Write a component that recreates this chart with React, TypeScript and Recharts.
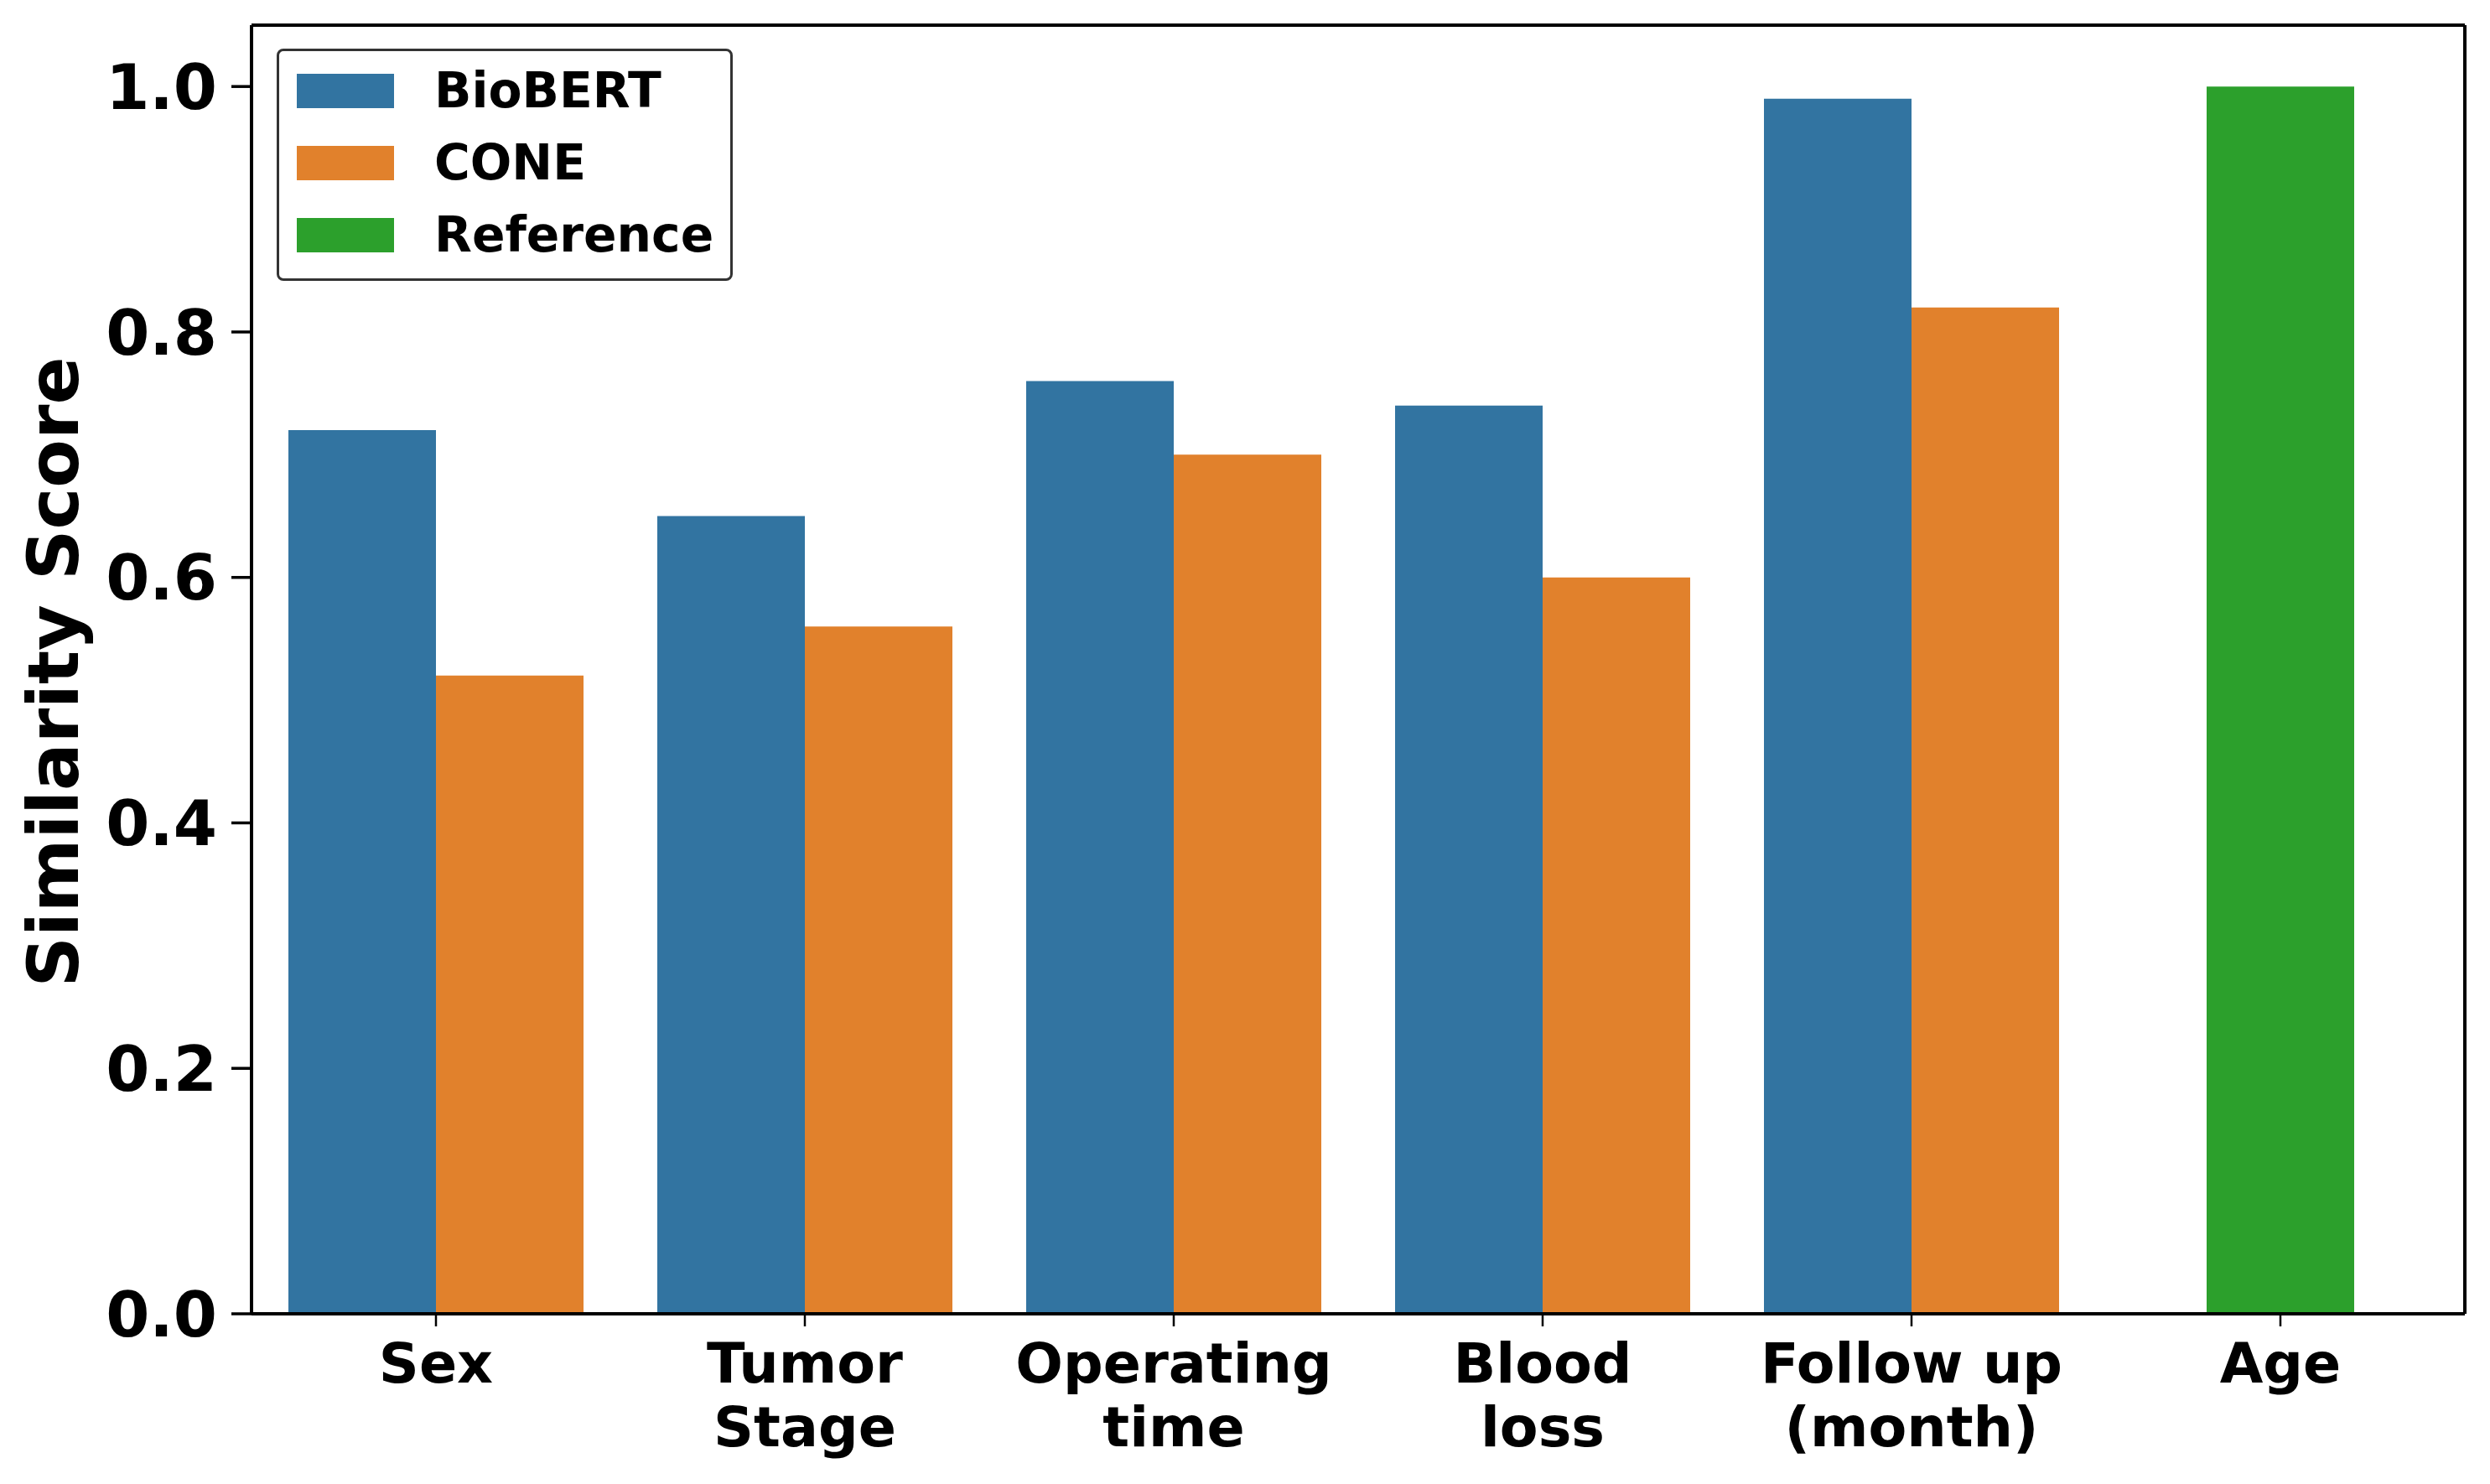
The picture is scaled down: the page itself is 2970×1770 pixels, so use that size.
import React from 'react';
import { BarChart, Bar, XAxis, YAxis, Legend } from 'recharts';

const CATEGORIES = ['Sex', 'Tumor\nStage', 'Operating\ntime', 'Blood\nloss', 'Follow up\n(month)', 'Age'];
const BIOBERT = [0.72, 0.65, 0.76, 0.74, 0.99, null];
const CONE = [0.52, 0.56, 0.70, 0.60, 0.82, null];
const REFERENCE = [null, null, null, null, null, 1.0];
const Y_TICKS = [0, 0.2, 0.4, 0.6, 0.8, 1.0];
const SERIES_NAMES = ['BioBERT', 'CONE', 'Reference'];
const COLORS = ['#3274a1', '#e1812c', '#2ca02c'];

const data = CATEGORIES.map((name, i) => ({
  name,
  BioBERT: BIOBERT[i],
  CONE: CONE[i],
  Reference: REFERENCE[i],
}));

const FONT = '"DejaVu Sans", sans-serif';

const XTick = (props: any) => {
  const { x, y, payload } = props;
  const lines = String(payload.value).split('\n');
  return (
    <text x={x} y={y} textAnchor="middle" fontFamily={FONT} fontWeight="bold" fontSize={66.7} fill="#000">
      {lines.map((ln, i) => (
        <tspan key={i} x={x} dy={i === 0 ? '0.73em' : 76}>{ln}</tspan>
      ))}
    </text>
  );
};

const YLabel = (props: any) => {
  const vb = props.viewBox || { x: 0, y: 0, height: 0 };
  const cx = vb.x + 93;
  const cy = vb.y + vb.height / 2 + 3;
  return (
    <text x={cx} y={cy} transform={`rotate(-90, ${cx}, ${cy})`} textAnchor="middle"
      fontFamily={FONT} fontWeight="bold" fontSize={84} fill="#000">
      Similarity Score
    </text>
  );
};

const LegendContent = () => (
  <div style={{
    boxSizing: 'border-box', width: 544, height: 277, border: '3px solid #333', borderRadius: 8,
    background: '#fff', paddingLeft: 21, paddingTop: 26, fontFamily: FONT, fontWeight: 'bold', fontSize: 58.3,
  }}>
    {SERIES_NAMES.map((n, i) => (
      <div key={n} style={{ display: 'flex', alignItems: 'center', height: 86 }}>
        <div style={{ width: 116, height: 41, background: COLORS[i], marginRight: 48, marginTop: -44 }} />
        <span style={{ lineHeight: 1, marginTop: -44 }}>{n}</span>
      </div>
    ))}
  </div>
);

export default function App() {
  return (
    <div style={{ position: 'absolute', left: 0, top: 0, background: '#fff' }}>
      <BarChart width={2970} height={1770} data={data}
        margin={{ top: 28, right: 28, left: 0, bottom: 0 }}
        barCategoryGap="10%" barGap={0}>
        <XAxis dataKey="name" height={203} tick={<XTick />} tickSize={15} tickMargin={18}
          axisLine={{ stroke: '#000', strokeWidth: 4 }} tickLine={{ stroke: '#000', strokeWidth: 2.5 }}
          interval={0} />
        <XAxis xAxisId="b" dataKey="name" hide />
        <XAxis xAxisId="top" dataKey="name" orientation="top" height={2} tick={false} tickLine={false}
          axisLine={{ stroke: '#000', strokeWidth: 4 }} />
        <YAxis width={300} domain={[0, 1.05]} ticks={Y_TICKS} tickFormatter={(v: number) => v.toFixed(1)}
          tickSize={24} tickMargin={17} interval={0}
          tick={{ fontFamily: FONT, fontWeight: 'bold', fontSize: 75, fill: '#000' }}
          axisLine={{ stroke: '#000', strokeWidth: 4 }} tickLine={{ stroke: '#000', strokeWidth: 3.5 }}
          label={<YLabel />} />
        <YAxis yAxisId="right" orientation="right" width={2} domain={[0, 1.05]} tick={false} tickLine={false}
          axisLine={{ stroke: '#000', strokeWidth: 4 }} />
        <Legend layout="vertical" align="center" verticalAlign="middle" content={<LegendContent />}
          wrapperStyle={{ left: 330, top: 58, width: 544, height: 277 }} />
        <Bar dataKey="BioBERT" name="BioBERT" fill={COLORS[0]} isAnimationActive={false} />
        <Bar dataKey="CONE" name="CONE" fill={COLORS[1]} isAnimationActive={false} />
        <Bar dataKey="Reference" name="Reference" xAxisId="b" fill={COLORS[2]} barSize={176} isAnimationActive={false} />
      </BarChart>
    </div>
  );
}
